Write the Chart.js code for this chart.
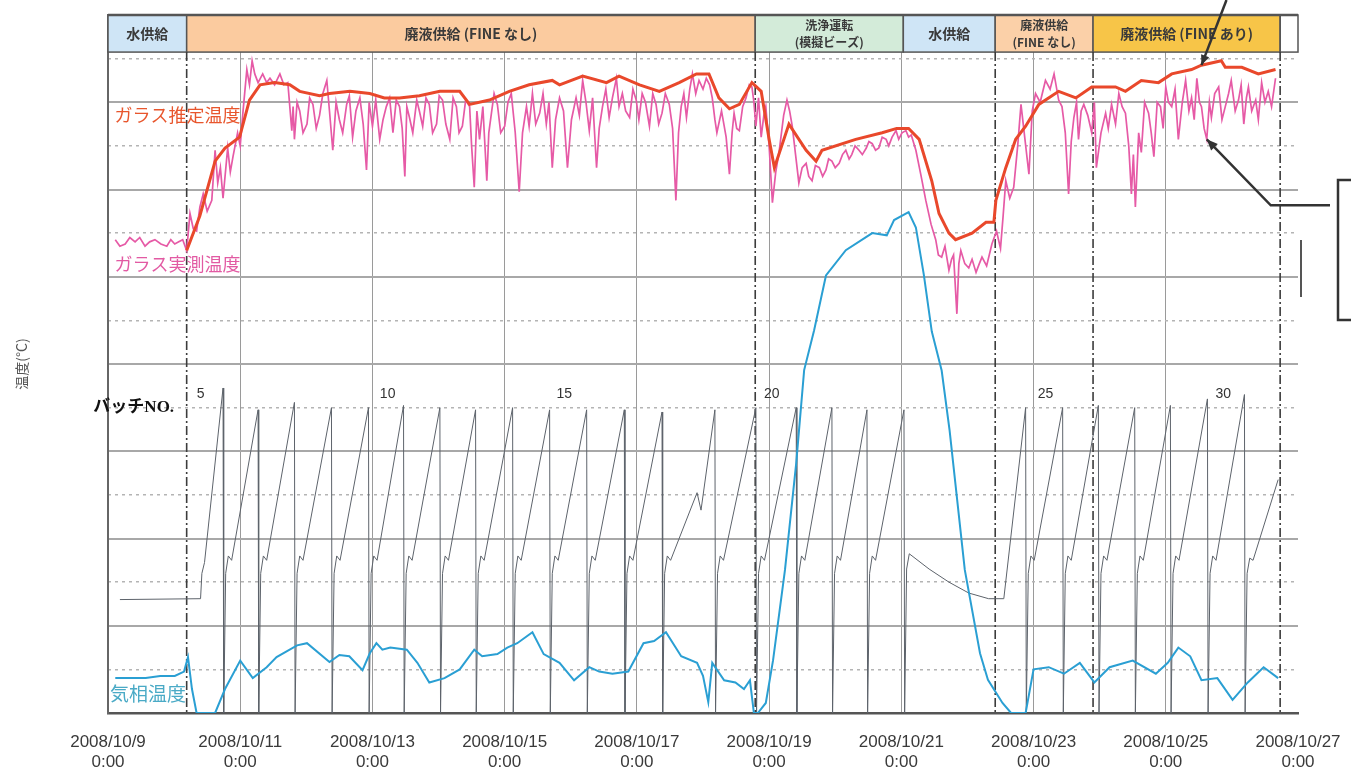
<!DOCTYPE html>
<html><head><meta charset="utf-8">
<script src="https://cdn.jsdelivr.net/npm/chart.js@4.4.0/dist/chart.umd.min.js"></script>
<style>html,body{margin:0;padding:0;background:#fff;}canvas{display:block;}</style>
</head><body>
<canvas id="c" width="1351" height="768" style="width:1351px;height:768px"></canvas>
<script>
// ---- axis / categories ----
const tickDays = [0,2,4,6,8,10,12,14,16,18];
const tickLabels = [['2008/10/9','0:00'],['2008/10/11','0:00'],['2008/10/13','0:00'],['2008/10/15','0:00'],['2008/10/17','0:00'],['2008/10/19','0:00'],['2008/10/21','0:00'],['2008/10/23','0:00'],['2008/10/25','0:00'],['2008/10/27','0:00']];
const majorTemps = [0,200,400,600,800,1000,1200,1400,1600];
const minorTemps = [100,300,500,700,900,1100,1300,1500];

// ---- operation stages (days from 2008/10/9 0:00) ----
const stageNames  = ['水供給','廃液供給 (FINE なし)',['洗浄運転','(模擬ビーズ)'],'水供給',['廃液供給','(FINE なし)'],'廃液供給 (FINE あり)'];
const stageStart  = [0, 1.19, 9.79, 12.03, 13.42, 14.90];
const stageEnd    = [1.19, 9.79, 12.03, 13.42, 14.90, 17.73];
const stageColors = ['#cfe5f6','#fbcb9f','#d3ebd9','#cfe5f6','#fbd0a8','#f7c548'];
const stageDividers = [1.19, 9.79, 13.42, 14.90, 17.73];
const bandBottomTemp = 1515;

// ---- batch numbers ----
const batchNos = ['5','10','15','20','25','30'];
const batchLabelDays = [1.40, 4.23, 6.90, 10.04, 14.18, 16.87];

// ---- series: [day, °C] ----
const estGlassTemp = [
[1.19,1060],[1.39,1140],[1.62,1265],[1.77,1295],[1.99,1320],[2.14,1405],[2.30,1440],[2.52,1445],[2.75,1440],[2.90,1425],[3.20,1415],[3.35,1420],[3.66,1425],[3.96,1420],[4.18,1410],[4.41,1410],[4.71,1415],[5.02,1425],[5.32,1425],[5.47,1395],[5.77,1405],[6.07,1425],[6.37,1440],[6.72,1450],[6.83,1440],[7.18,1460],[7.54,1445],[7.73,1460],[8.04,1440],[8.34,1425],[8.64,1445],[8.90,1465],[9.09,1465],[9.24,1410],[9.40,1385],[9.55,1395],[9.74,1445],[9.88,1425],[10.00,1315],[10.08,1250],[10.30,1350],[10.56,1290],[10.71,1265],[10.80,1290],[11.31,1315],[11.71,1330],[11.93,1340],[12.11,1340],[12.27,1315],[12.46,1220],[12.57,1145],[12.72,1100],[12.82,1085],[13.07,1100],[13.28,1125],[13.40,1125],[13.43,1175],[13.58,1250],[13.73,1315],[13.88,1345],[14.08,1395],[14.38,1425],[14.64,1410],[14.88,1435],[15.24,1435],[15.39,1425],[15.63,1450],[15.89,1445],[16.09,1465],[16.39,1475],[16.54,1485],[16.84,1495],[16.90,1480],[17.15,1480],[17.40,1465],[17.66,1475]
];
const measGlassTemp = [
[0.11,1085],[0.18,1070],[0.26,1075],[0.33,1090],[0.41,1080],[0.48,1090],[0.56,1070],[0.63,1080],[0.71,1085],[0.80,1075],[0.89,1070],[0.95,1085],[1.01,1075],[1.07,1080],[1.13,1085],[1.19,1060],[1.24,1145],[1.29,1110],[1.34,1105],[1.39,1160],[1.44,1190],[1.50,1150],[1.57,1175],[1.62,1290],[1.66,1215],[1.70,1250],[1.74,1180],[1.81,1295],[1.85,1240],[1.89,1275],[1.96,1330],[2.00,1300],[2.04,1375],[2.10,1475],[2.14,1440],[2.18,1495],[2.22,1465],[2.27,1445],[2.34,1465],[2.40,1445],[2.45,1455],[2.52,1440],[2.60,1465],[2.66,1440],[2.72,1445],
[2.78,1335],[2.80,1390],[2.82,1315],[2.86,1400],[2.90,1380],[2.95,1330],[3.01,1350],[3.05,1410],[3.10,1395],[3.15,1340],[3.20,1370],[3.25,1420],[3.31,1450],[3.35,1380],[3.40,1290],[3.45,1400],[3.50,1360],[3.55,1330],[3.61,1395],[3.65,1415],[3.70,1320],[3.75,1380],[3.81,1410],[3.86,1350],[3.91,1245],[3.95,1400],[4.00,1345],[4.05,1405],[4.11,1315],[4.16,1360],[4.21,1390],[4.26,1410],[4.31,1330],[4.36,1405],[4.41,1390],[4.45,1340],[4.49,1230],[4.52,1390],[4.56,1365],[4.61,1330],[4.67,1405],[4.71,1380],[4.76,1345],[4.81,1410],[4.86,1395],[4.91,1330],[4.97,1350],[5.01,1415],[5.06,1405],[5.11,1350],[5.17,1315],[5.22,1410],[5.27,1390],[5.31,1330],[5.36,1345],[5.41,1405],[5.47,1390],[5.50,1300],[5.54,1205],[5.58,1380],[5.62,1315],[5.67,1390],[5.73,1220],[5.76,1330],[5.80,1375],[5.84,1420],[5.89,1395],[5.94,1330],[6.00,1345],[6.05,1400],[6.10,1420],[6.16,1330],[6.22,1195],[6.27,1330],[6.33,1390],[6.37,1345],[6.42,1420],[6.47,1350],[6.53,1375],[6.58,1420],[6.63,1350],[6.67,1400],[6.72,1250],[6.77,1360],[6.83,1410],[6.89,1380],[6.95,1250],[7.01,1360],[7.08,1410],[7.13,1370],[7.18,1450],[7.23,1400],[7.28,1335],[7.33,1410],[7.39,1250],[7.43,1340],[7.48,1390],[7.53,1430],[7.58,1365],[7.63,1410],[7.69,1455],[7.73,1390],[7.78,1420],[7.83,1380],[7.89,1365],[7.94,1430],[7.99,1405],[8.03,1360],[8.08,1420],[8.13,1400],[8.19,1345],[8.24,1420],[8.29,1395],[8.33,1350],[8.38,1375],[8.43,1420],[8.49,1395],[8.54,1340],[8.59,1175],[8.63,1330],[8.67,1390],[8.71,1420],[8.75,1365],[8.80,1430],[8.84,1465],[8.89,1420],[8.94,1450],[9.00,1430],[9.05,1455],[9.10,1440],[9.14,1410],
[9.18,1360],[9.21,1330],[9.28,1380],[9.35,1320],[9.40,1235],[9.44,1330],[9.47,1375],[9.51,1340],[9.55,1335],[9.60,1390],[9.65,1410],[9.70,1440],[9.74,1435],[9.77,1400],[9.80,1345],[9.84,1410],[9.88,1320],[9.92,1370],[9.95,1390],[10.00,1300],[10.05,1170],[10.10,1240],[10.15,1285],[10.22,1370],[10.27,1405],[10.31,1380],[10.35,1345],[10.40,1280],[10.45,1215],[10.50,1250],[10.56,1260],[10.60,1230],[10.65,1220],[10.70,1255],[10.76,1250],[10.81,1230],[10.86,1245],[10.90,1270],[10.95,1265],[11.00,1250],[11.06,1260],[11.11,1280],[11.16,1290],[11.21,1270],[11.25,1280],[11.30,1300],[11.36,1290],[11.41,1280],[11.47,1295],[11.51,1310],[11.56,1305],[11.61,1290],[11.66,1295],[11.71,1320],[11.77,1315],[11.81,1300],[11.86,1320],[11.92,1335],[11.96,1315],[12.01,1330],[12.07,1335],[12.11,1320],[12.15,1325],[12.22,1290],[12.30,1230],[12.37,1175],[12.45,1120],[12.52,1085],[12.56,1050],[12.61,1045],[12.66,1070],[12.72,1015],[12.76,1040],[12.79,1050],[12.84,915],[12.87,1030],[12.90,1060],[12.96,1030],[13.02,1020],[13.07,1040],[13.13,1010],[13.18,1030],[13.22,1045],[13.29,1025],[13.33,1050],[13.37,1075],[13.44,1105],[13.50,1065],[13.54,1140],[13.58,1220],[13.64,1180],[13.70,1205],[13.76,1300],
[13.81,1395],[13.87,1315],[13.93,1235],[13.98,1380],[14.03,1420],[14.10,1400],[14.18,1450],[14.25,1430],[14.31,1465],[14.38,1405],[14.43,1390],[14.48,1330],[14.53,1190],[14.57,1310],[14.61,1365],[14.65,1400],[14.68,1315],[14.72,1380],[14.76,1395],[14.82,1370],[14.88,1330],[14.92,1400],[14.95,1250],[15.02,1330],[15.09,1375],[15.13,1340],[15.18,1395],[15.24,1350],[15.29,1420],[15.34,1390],[15.39,1375],[15.44,1300],[15.48,1190],[15.51,1280],[15.54,1160],[15.59,1330],[15.63,1285],[15.68,1400],[15.74,1375],[15.78,1330],[15.82,1275],[15.87,1400],[15.92,1390],[15.96,1340],[16.00,1435],[16.04,1400],[16.09,1390],[16.14,1430],[16.19,1315],[16.25,1400],[16.30,1450],[16.35,1380],[16.39,1410],[16.43,1360],[16.47,1455],[16.51,1400],[16.54,1390],[16.58,1340],[16.62,1315],[16.66,1400],[16.69,1365],[16.74,1420],[16.80,1435],[16.85,1360],[16.90,1390],[16.95,1420],[16.99,1450],[17.05,1380],[17.10,1405],[17.14,1440],[17.18,1350],[17.22,1410],[17.25,1435],[17.30,1380],[17.36,1405],[17.40,1360],[17.45,1445],[17.50,1400],[17.55,1425],[17.60,1390],[17.66,1455]
];
const gasTemp = [
[0.11,80],[0.33,80],[0.57,80],[0.79,85],[1.01,85],[1.15,95],[1.21,128],[1.27,55],[1.34,0],[1.62,0],[1.77,55],[2.00,120],[2.19,80],[2.40,105],[2.55,128],[2.86,155],[3.01,160],[3.35,117],[3.50,133],[3.65,130],[3.85,98],[3.96,137],[4.06,160],[4.15,145],[4.27,150],[4.52,145],[4.68,115],[4.86,70],[5.09,80],[5.32,100],[5.54,145],[5.66,130],[5.89,135],[6.04,150],[6.19,160],[6.42,185],[6.59,135],[6.83,115],[7.05,75],[7.28,105],[7.43,95],[7.63,90],[7.87,95],[8.10,160],[8.26,165],[8.44,185],[8.67,130],[8.91,115],[9.00,85],[9.08,25],[9.14,115],[9.32,75],[9.49,70],[9.62,55],[9.71,75],[9.77,0],[9.83,0],[9.95,23],[10.06,121],[10.24,328],[10.41,573],[10.53,786],[10.68,877],[10.86,1003],[11.16,1061],[11.56,1100],[11.78,1095],[11.89,1130],[12.11,1148],[12.22,1113],[12.34,1005],[12.46,875],[12.61,785],[12.73,648],[12.96,328],[13.19,137],[13.31,76],[13.53,23],[13.66,0],[13.88,0],[14.00,100],[14.23,105],[14.46,90],[14.70,115],[14.92,70],[15.15,105],[15.50,120],[15.85,90],[16.03,115],[16.19,150],[16.37,130],[16.54,75],[16.78,80],[17.01,30],[17.24,70],[17.48,105],[17.70,80]
];
const batchTrace = [
[0.18,260],[1.40,262],[1.42,320],[1.46,345],
[1.74,745],[1.75,0],[1.78,320],[1.82,360],[1.87,350],
[2.27,695],[2.28,0],[2.31,320],[2.35,360],[2.40,350],
[2.82,712],[2.83,0],[2.86,320],[2.90,360],[2.95,350],
[3.38,700],[3.39,0],[3.42,320],[3.46,360],[3.51,350],
[3.94,700],[3.95,0],[3.98,320],[4.02,360],[4.07,350],
[4.47,705],[4.48,0],[4.51,320],[4.55,360],[4.60,350],
[5.02,700],[5.03,0],[5.06,320],[5.10,360],[5.15,350],
[5.56,695],[5.57,0],[5.60,320],[5.64,360],[5.69,350],
[6.12,700],[6.13,0],[6.16,320],[6.20,360],[6.25,350],
[6.68,695],[6.69,0],[6.72,320],[6.76,360],[6.81,350],
[7.24,695],[7.25,0],[7.28,320],[7.32,360],[7.37,350],
[7.81,695],[7.82,0],[7.85,320],[7.89,360],[7.94,350],
[8.38,690],[8.39,0],[8.42,320],[8.46,360],[8.51,350],
[8.91,505],[8.97,465],
[9.18,695],[9.19,0],[9.22,320],[9.26,360],[9.31,350],
[9.80,700],[9.81,0],[9.84,320],[9.88,360],[9.93,350],
[10.41,700],[10.42,0],[10.45,320],[10.49,360],[10.54,350],
[10.95,700],[10.96,0],[10.99,320],[11.03,360],[11.08,350],
[11.48,695],[11.49,0],[11.52,320],[11.56,360],[11.61,350],
[12.04,695],[12.05,0],[12.08,330],[12.12,365],[12.42,330],[12.72,300],[13.02,275],[13.32,262],[13.55,262],
[13.88,700],[13.89,0],[13.92,320],[13.96,360],[14.01,350],
[14.44,700],[14.45,0],[14.48,320],[14.52,360],[14.57,350],
[14.98,705],[14.99,0],[15.02,320],[15.06,360],[15.11,350],
[15.53,700],[15.54,0],[15.57,320],[15.61,360],[15.66,350],
[16.07,705],[16.08,0],[16.11,320],[16.15,360],[16.20,350],
[16.63,720],[16.64,0],[16.67,320],[16.71,360],[16.76,350],
[17.19,730],[17.20,0],[17.23,320],[17.27,355],[17.32,350],
[17.70,535]
];

// ---- annotation anchors (day, °C) ----
const arrowTipTop = [16.54, 1485];
const arrowTipLow = [16.62, 1315];

const toXY = a => a.map(([x,y]) => ({x, y}));
const JP = '"Noto Sans CJK JP", "Noto Sans CJK SC", sans-serif';

function arrowHead(ctx, fx, fy, tx, ty, size){
  const ang = Math.atan2(ty-fy, tx-fx);
  ctx.beginPath();
  ctx.moveTo(tx, ty);
  ctx.lineTo(tx - size*Math.cos(ang-0.4), ty - size*Math.sin(ang-0.4));
  ctx.lineTo(tx - size*Math.cos(ang+0.4), ty - size*Math.sin(ang+0.4));
  ctx.closePath(); ctx.fill();
}

const overlay = {
  id: 'overlay',
  beforeDatasetsDraw(chart){
    const {ctx, chartArea:a, scales:{x, y}} = chart;
    const top = a.top, bot = y.getPixelForValue(bandBottomTemp);
    ctx.save();
    ctx.fillStyle = '#fff'; ctx.fillRect(a.left, top, a.right - a.left, bot - top);
    ctx.textAlign = 'center'; ctx.textBaseline = 'middle';
    stageNames.forEach((name, i) => {
      const x0 = x.getPixelForValue(stageStart[i]), x1 = x.getPixelForValue(stageEnd[i]);
      ctx.fillStyle = stageColors[i]; ctx.fillRect(x0, top, x1 - x0, bot - top);
      ctx.strokeStyle = '#555'; ctx.lineWidth = 1.5; ctx.strokeRect(x0, top, x1 - x0, bot - top);
      ctx.fillStyle = '#3a3a3a';
      const cx = (x0 + x1) / 2, cy = (top + bot) / 2;
      if (Array.isArray(name)) {
        ctx.font = 'bold 12px ' + JP;
        ctx.fillText(name[0], cx, cy - 8); ctx.fillText(name[1], cx, cy + 9);
      } else {
        ctx.font = 'bold 14px ' + JP; ctx.fillText(name, cx, cy);
      }
    });
    const xe = x.getPixelForValue(stageEnd[stageEnd.length - 1]);
    ctx.strokeStyle = '#555'; ctx.lineWidth = 1.5;
    ctx.strokeRect(xe, top, a.right - xe, bot - top);
    ctx.beginPath(); ctx.lineWidth = 2.5; ctx.moveTo(a.left, top); ctx.lineTo(a.right, top); ctx.stroke();
    // stage dividers (dash-dot)
    ctx.strokeStyle = '#3c3c3c'; ctx.lineWidth = 1.6; ctx.setLineDash([9,3,2,3]);
    stageDividers.forEach(t => {
      const xx = x.getPixelForValue(t);
      ctx.beginPath(); ctx.moveTo(xx, bot); ctx.lineTo(xx, a.bottom); ctx.stroke();
    });
    ctx.restore();
  },
  afterDatasetsDraw(chart){
    const {ctx, chartArea:a, scales:{x, y}} = chart;
    ctx.save();
    ctx.textBaseline = 'middle'; ctx.textAlign = 'left';
    ctx.font = '18px ' + JP;
    ctx.fillStyle = '#e8562d'; ctx.fillText('ガラス推定温度', x.getPixelForValue(0.10), y.getPixelForValue(1370));
    ctx.fillStyle = '#e25aa3'; ctx.fillText('ガラス実測温度', x.getPixelForValue(0.10), y.getPixelForValue(1030));
    ctx.font = '19px ' + JP;
    ctx.fillStyle = '#4aaac6'; ctx.fillText('気相温度', x.getPixelForValue(0.03), y.getPixelForValue(45));
    ctx.textAlign = 'right'; ctx.fillStyle = '#111';
    ctx.font = 'bold 17px "Liberation Serif", ' + JP;
    ctx.fillText('バッチNO.', x.getPixelForValue(1.0), y.getPixelForValue(700));
    ctx.textAlign = 'center'; ctx.fillStyle = '#333';
    ctx.font = '14px "Liberation Sans", Arial, sans-serif';
    batchNos.forEach((n, i) => ctx.fillText(n, x.getPixelForValue(batchLabelDays[i]), y.getPixelForValue(730)));

    // arrows
    ctx.strokeStyle = '#333'; ctx.fillStyle = '#333'; ctx.lineWidth = 2.5;
    const t1x = x.getPixelForValue(arrowTipTop[0]), t1y = y.getPixelForValue(arrowTipTop[1]);
    ctx.beginPath(); ctx.moveTo(t1x + 25, 0); ctx.lineTo(t1x, t1y); ctx.stroke();
    arrowHead(ctx, t1x + 25, 0, t1x, t1y, 11);
    const t2x = x.getPixelForValue(arrowTipLow[0]), t2y = y.getPixelForValue(arrowTipLow[1]);
    ctx.beginPath(); ctx.moveTo(a.right + 32, t2y + 66); ctx.lineTo(t2x + 64, t2y + 66); ctx.lineTo(t2x, t2y); ctx.stroke();
    arrowHead(ctx, t2x + 64, t2y + 66, t2x, t2y, 12);
    // callout bracket (cut off at the right edge)
    ctx.beginPath(); ctx.moveTo(chart.width, 180); ctx.lineTo(a.right + 40, 180); ctx.lineTo(a.right + 40, 320); ctx.lineTo(chart.width, 320); ctx.stroke();
    ctx.strokeStyle = '#555'; ctx.lineWidth = 2;
    ctx.beginPath(); ctx.moveTo(a.right + 3, 240); ctx.lineTo(a.right + 3, 297); ctx.stroke();
    ctx.restore();
  }
};

new Chart(document.getElementById('c'), {
  type: 'line',
  data: {
    datasets: [
      {label:'ガラス推定温度', data: toXY(estGlassTemp), borderColor:'#e9482b', borderWidth:3, pointRadius:0, tension:0, order:0},
      {label:'ガラス実測温度', data: toXY(measGlassTemp), borderColor:'#e65aa6', borderWidth:1.7, pointRadius:0, tension:0, order:1},
      {label:'気相温度', data: toXY(gasTemp), borderColor:'#2a9fd3', borderWidth:2, pointRadius:0, tension:0, order:2},
      {label:'バッチ', data: toXY(batchTrace), borderColor:'#5d636b', borderWidth:1, pointRadius:0, tension:0, order:3}
    ]
  },
  options: {
    responsive: false, animation: false, devicePixelRatio: 1,
    layout: {padding: {top: 15, right: 53, left: 0, bottom: 0}},
    plugins: {legend: {display: false}, tooltip: {enabled: false}},
    scales: {
      x: {
        type: 'linear', min: 0, max: 18,
        afterBuildTicks: s => { s.ticks = tickDays.map(v => ({value: v})); },
        ticks: {callback: v => tickLabels[tickDays.indexOf(v)], font: {family: '"Liberation Sans", Arial, sans-serif', size: 17, lineHeight: 1.15}, color: '#3a3a3a', padding: 20, maxRotation: 0, autoSkip: false},
        grid: {color: c => (c.tick && c.tick.value === 18) ? 'rgba(0,0,0,0)' : '#9a9a9a', lineWidth: 1, drawTicks: false},
        border: {color: '#555', width: 2.5},
        afterFit: s => { s.height = 55; s.paddingLeft = 0; s.paddingRight = 0; }
      },
      y: {
        min: 0, max: 1600,
        afterBuildTicks: s => { s.ticks = majorTemps.map(v => ({value: v})); },
        ticks: {display: false},
        grid: {color: '#a8a8a8', lineWidth: 2, drawTicks: false},
        border: {color: '#666', width: 2},
        title: {display: true, text: '温度(°C)', font: {family: JP, size: 14}, color: '#555', padding: {top: 13, bottom: 0}},
        afterFit: s => { s.width = 108; }
      },
      y2: {
        min: 0, max: 1600, position: 'left',
        afterBuildTicks: s => { s.ticks = minorTemps.map(v => ({value: v})); },
        ticks: {display: false},
        grid: {color: '#b4b4b4', lineWidth: 1.5, drawTicks: false},
        border: {display: false, dash: [3,4]},
        afterFit: s => { s.width = 0; }
      }
    }
  },
  plugins: [overlay]
});
</script>
</body></html>
